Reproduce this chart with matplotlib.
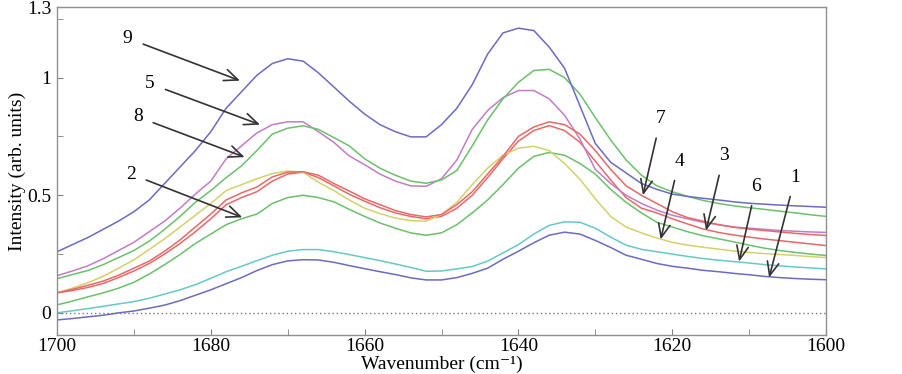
import matplotlib
matplotlib.use("Agg")
import matplotlib.pyplot as plt
import numpy as np

plt.rcParams['font.family'] = ['Liberation Serif', 'DejaVu Serif']

wavenumber = list(range(1700, 1599, -2))

curve1 = [-0.03, -0.024, -0.017, -0.01, 0.0, 0.008, 0.02, 0.033, 0.052, 0.075,
          0.098, 0.124, 0.15, 0.18, 0.205, 0.221, 0.226, 0.225, 0.215, 0.201,
          0.188, 0.175, 0.163, 0.149, 0.14, 0.14, 0.15, 0.168, 0.19, 0.228,
          0.262, 0.298, 0.33, 0.343, 0.335, 0.308, 0.278, 0.245, 0.228, 0.21,
          0.198, 0.19, 0.181, 0.175, 0.168, 0.162, 0.155, 0.15, 0.146, 0.143, 0.141]
curve2 = [0.034, 0.05, 0.068, 0.085, 0.105, 0.13, 0.165, 0.205, 0.248, 0.295,
          0.335, 0.375, 0.40, 0.42, 0.465, 0.49, 0.50, 0.49, 0.472, 0.44,
          0.41, 0.382, 0.36, 0.34, 0.33, 0.34, 0.375, 0.425, 0.48, 0.545,
          0.615, 0.665, 0.682, 0.67, 0.635, 0.59, 0.525, 0.47, 0.425, 0.385,
          0.365, 0.345, 0.328, 0.315, 0.302, 0.288, 0.275, 0.265, 0.257, 0.25, 0.244]
curve3 = [0.085, 0.095, 0.108, 0.125, 0.15, 0.178, 0.21, 0.25, 0.295, 0.345,
          0.40, 0.46, 0.49, 0.515, 0.56, 0.59, 0.598, 0.575, 0.54, 0.504,
          0.475, 0.447, 0.425, 0.41, 0.40, 0.41, 0.445, 0.50, 0.575, 0.655,
          0.73, 0.775, 0.796, 0.775, 0.725, 0.645, 0.565, 0.49, 0.445, 0.425,
          0.40, 0.378, 0.357, 0.342, 0.331, 0.322, 0.314, 0.307, 0.30, 0.293, 0.286]
curve4 = [0.085, 0.105, 0.128, 0.155, 0.19, 0.225, 0.27, 0.315, 0.365, 0.415,
          0.465, 0.52, 0.545, 0.57, 0.592, 0.603, 0.598, 0.555, 0.52, 0.48,
          0.445, 0.422, 0.403, 0.392, 0.39, 0.418, 0.47, 0.545, 0.615, 0.67,
          0.70, 0.708, 0.69, 0.635, 0.568, 0.485, 0.41, 0.365, 0.34, 0.318,
          0.30, 0.288, 0.279, 0.271, 0.263, 0.257, 0.252, 0.248, 0.244, 0.239, 0.235]
curve5 = [0.158, 0.178, 0.20, 0.23, 0.265, 0.30, 0.345, 0.39, 0.445, 0.505,
          0.56, 0.655, 0.71, 0.765, 0.80, 0.812, 0.812, 0.77, 0.725, 0.667,
          0.63, 0.59, 0.56, 0.54, 0.538, 0.57, 0.65, 0.78, 0.86, 0.915,
          0.945, 0.945, 0.91, 0.84, 0.739, 0.61, 0.55, 0.50, 0.465, 0.437,
          0.415, 0.40, 0.385, 0.375, 0.365, 0.36, 0.355, 0.35, 0.347, 0.344, 0.342]
curve6 = [0.0, 0.009, 0.018, 0.028, 0.038, 0.048, 0.062, 0.08, 0.098, 0.12,
          0.147, 0.175, 0.198, 0.222, 0.245, 0.262, 0.269, 0.269, 0.26, 0.248,
          0.235, 0.222, 0.208, 0.193, 0.177, 0.178, 0.187, 0.197, 0.22, 0.255,
          0.29, 0.335, 0.372, 0.387, 0.385, 0.36, 0.322, 0.288, 0.27, 0.26,
          0.25, 0.24, 0.231, 0.224, 0.218, 0.212, 0.205, 0.20, 0.195, 0.191, 0.187]
curve7 = [0.085, 0.10, 0.117, 0.135, 0.16, 0.19, 0.22, 0.262, 0.31, 0.365,
          0.42, 0.48, 0.51, 0.535, 0.578, 0.598, 0.60, 0.585, 0.55, 0.518,
          0.485, 0.46, 0.435, 0.418, 0.408, 0.418, 0.46, 0.515, 0.59, 0.665,
          0.75, 0.79, 0.812, 0.80, 0.76, 0.69, 0.61, 0.54, 0.50, 0.465,
          0.43, 0.405, 0.39, 0.375, 0.364, 0.356, 0.35, 0.344, 0.338, 0.333, 0.329]
curve8 = [0.145, 0.163, 0.18, 0.205, 0.235, 0.265, 0.305, 0.355, 0.41, 0.47,
          0.52, 0.575, 0.625, 0.69, 0.76, 0.785, 0.795, 0.78, 0.745, 0.71,
          0.655, 0.615, 0.585, 0.56, 0.551, 0.565, 0.605, 0.71, 0.82, 0.91,
          0.98, 1.03, 1.035, 1.00, 0.93, 0.83, 0.735, 0.65, 0.585, 0.54,
          0.515, 0.495, 0.478, 0.465, 0.455, 0.447, 0.44, 0.432, 0.425, 0.417, 0.41]
curve9 = [0.26, 0.29, 0.32, 0.355, 0.39, 0.43, 0.48, 0.55, 0.62, 0.69,
          0.77, 0.87, 0.94, 1.01, 1.06, 1.08, 1.07, 1.02, 0.96, 0.90,
          0.845, 0.80, 0.77, 0.748, 0.748, 0.80, 0.87, 0.97, 1.10, 1.19,
          1.21, 1.20, 1.13, 1.04, 0.88, 0.72, 0.64, 0.595, 0.55, 0.525,
          0.505, 0.495, 0.487, 0.48, 0.472, 0.466, 0.462, 0.458, 0.455, 0.452, 0.449]

series = [curve1, curve2, curve3, curve4, curve5, curve6, curve7, curve8, curve9]
colors = ['#6b6bc2', '#6cc06c', '#e86868', '#d2d26c', '#c47cc4', '#66c8c8',
          '#e86868', '#6cc06c', '#6b6bc2']

labels = ['1', '2', '3', '4', '5', '6', '7', '8', '9']
label_text_pos = [(1604.0, 0.577), (1690.4, 0.59), (1613.3, 0.667), (1619.1, 0.645),
                  (1687.9, 0.974), (1609.1, 0.538), (1621.5, 0.825), (1689.5, 0.833),
                  (1690.8, 1.167)]
label_tip_pos = [(1607.4, 0.15), (1675.9, 0.406), (1615.6, 0.35), (1621.5, 0.312),
                 (1673.6, 0.80), (1611.3, 0.218), (1623.8, 0.50), (1675.6, 0.662),
                 (1676.2, 0.987)]

fig = plt.figure(figsize=(9.02, 3.74), dpi=100)
ax = fig.add_axes([57/902, 1-335/374, (826-57)/902, (335-7)/374])

ax.axhline(0, color='#777777', lw=1.0, ls=(0, (1, 2)), zorder=1)
for ys, c in zip(series, colors):
    ax.plot(wavenumber, ys, color=c, lw=1.1, zorder=2)

for lab, tp, hp in zip(labels, label_text_pos, label_tip_pos):
    ax.annotate(lab, xy=hp, xytext=tp, fontsize=14, ha='center', va='center',
                arrowprops=dict(arrowstyle='->,head_length=0.7,head_width=0.3',
                                color='#333333', lw=1.2, shrinkA=6, shrinkB=0),
                zorder=5)

ax.set_xlim(1700, 1600)
ax.set_ylim(-0.094, 1.3)
ax.set_xticks([1700, 1680, 1660, 1640, 1620, 1600])
ax.set_xticks([1690, 1670, 1650, 1630, 1610], minor=True)
ax.set_yticks([0, 0.5, 1, 1.3])
ax.set_yticklabels(['0', '0.5', '1', '1.3'])
ax.set_yticks([0.25, 0.75, 1.25], minor=True)
ax.tick_params(which='both', direction='in', length=4, color='#808080',
               labelsize=14, top=False, right=False)
ax.tick_params(axis='x', pad=2)
ax.tick_params(axis='y', pad=4)
for s in ax.spines.values():
    s.set_color('#909090')
    s.set_linewidth(1.0)

ax.set_xlabel('Wavenumber (cm\u207b\u00b9)', fontsize=14, va='baseline')
ax.xaxis.set_label_coords(0.5, -0.1037)
ax.set_ylabel('Intensity (arb. units)', fontsize=14, va='center')
ax.yaxis.set_label_coords(-0.051, 0.5)

fig.savefig('out.png', dpi=100)
